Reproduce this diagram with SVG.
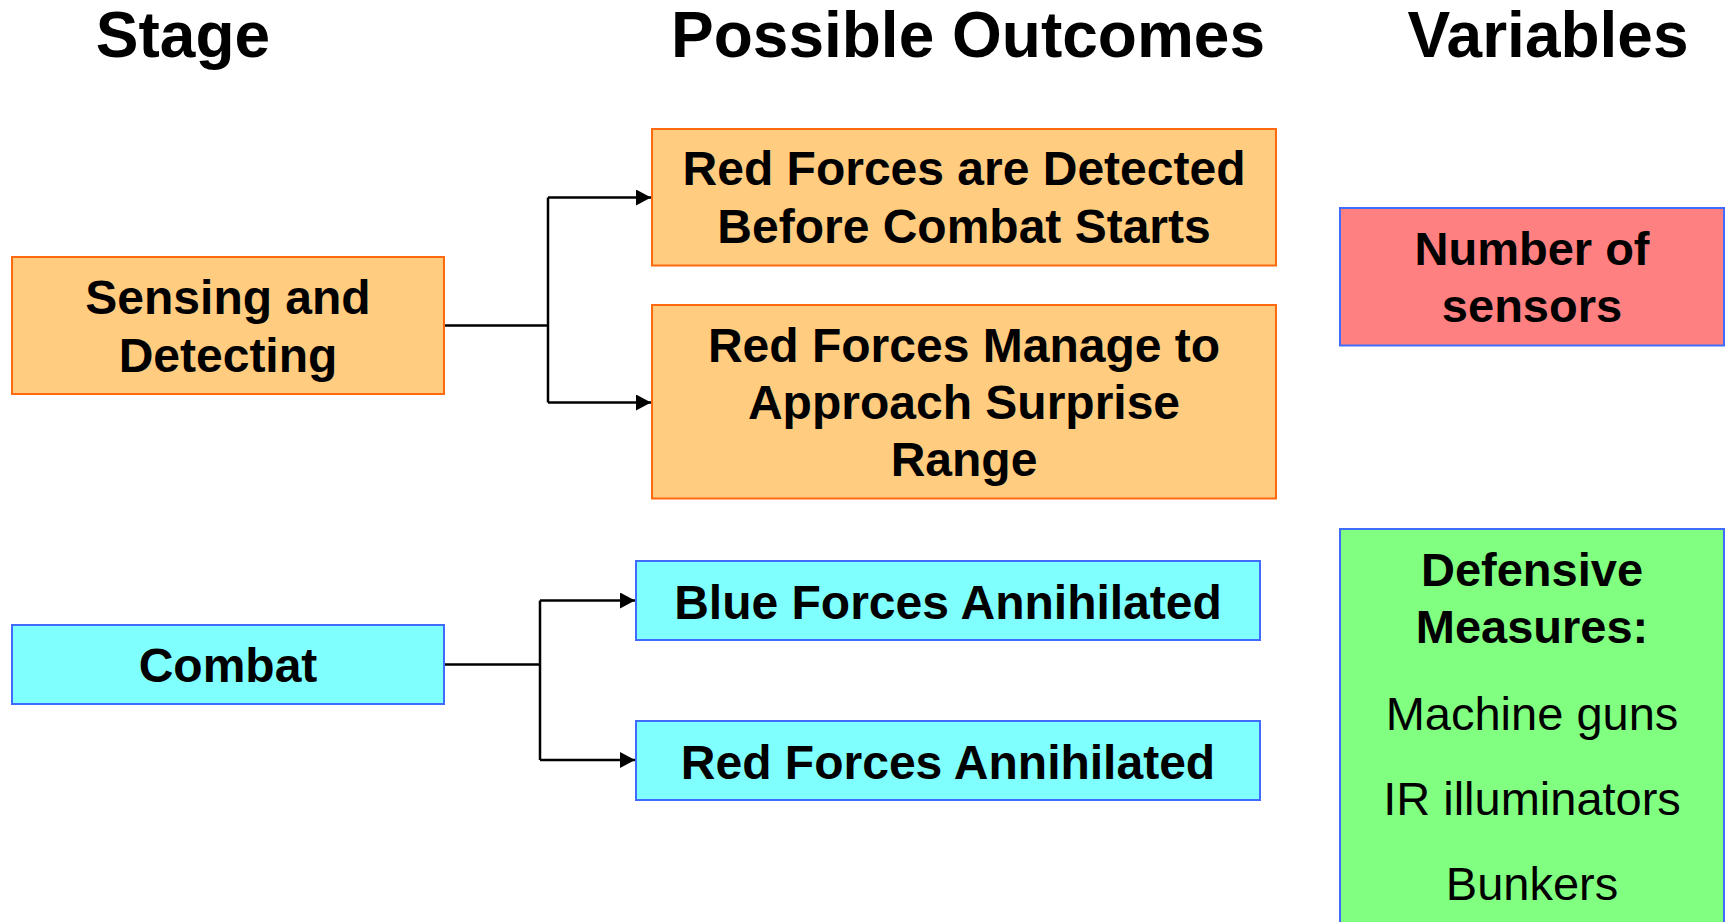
<svg xmlns="http://www.w3.org/2000/svg" width="1725" height="922" viewBox="0 0 1725 922">
  <style>
    .title { font-family: "Liberation Sans", Arial, sans-serif; font-weight: bold; font-size: 64px; fill: #000; text-anchor: middle; }
    .lbl { font-family: "Liberation Sans", Arial, sans-serif; font-weight: bold; font-size: 48px; fill: #000; text-anchor: middle; }
    .var { font-family: "Liberation Sans", Arial, sans-serif; font-size: 47px; fill: #000; text-anchor: middle; }
    .varb { font-family: "Liberation Sans", Arial, sans-serif; font-weight: bold; font-size: 47px; fill: #000; text-anchor: middle; }
    .orange { fill: #FFCC80; stroke: #FF6A10; stroke-width: 2; }
    .cyan { fill: #80FFFF; stroke: #3F6CFF; stroke-width: 2; }
    .red { fill: #FF8080; stroke: #3F6CFF; stroke-width: 2; }
    .green { fill: #80FF80; stroke: #3F6CFF; stroke-width: 2; }
    .conn { fill: none; stroke: #000; stroke-width: 2.5; }
  </style>
  <defs>
    <marker id="arrow" markerWidth="15" markerHeight="16" refX="15" refY="8" orient="auto" markerUnits="userSpaceOnUse">
      <path d="M0,0 L15,8 L0,16 Z" fill="#000"/>
    </marker>
  </defs>

  <!-- column headings -->
  <g id="headings">
    <text class="title" x="183" y="57">Stage</text>
    <text class="title" x="968" y="57">Possible Outcomes</text>
    <text class="title" x="1548" y="57">Variables</text>
  </g>

  <!-- connectors -->
  <g id="connectors">
    <path class="conn" d="M444,325.5 H548 M548,197.5 V402.5"/>
    <path class="conn" d="M548,197.5 H651" marker-end="url(#arrow)"/>
    <path class="conn" d="M548,402.5 H651" marker-end="url(#arrow)"/>
    <path class="conn" d="M444,664.5 H540 M540,600.5 V760"/>
    <path class="conn" d="M540,600.5 H635" marker-end="url(#arrow)"/>
    <path class="conn" d="M540,760 H635" marker-end="url(#arrow)"/>
  </g>

  <!-- stages -->
  <g id="sensing">
    <rect class="orange" x="12" y="257" width="432" height="137"/>
    <text class="lbl" x="228" y="314">Sensing and</text>
    <text class="lbl" x="228" y="372">Detecting</text>
  </g>
  <g id="combat">
    <rect class="cyan" x="12" y="625" width="432" height="79"/>
    <text class="lbl" x="228" y="682">Combat</text>
  </g>

  <!-- outcomes -->
  <g id="detected">
    <rect class="orange" x="652" y="129" width="624" height="136.5"/>
    <text class="lbl" x="964" y="185">Red Forces are Detected</text>
    <text class="lbl" x="964" y="243">Before Combat Starts</text>
  </g>
  <g id="surprise">
    <rect class="orange" x="652" y="305" width="624" height="193.5"/>
    <text class="lbl" x="964" y="362">Red Forces Manage to</text>
    <text class="lbl" x="964" y="419">Approach Surprise</text>
    <text class="lbl" x="964" y="476">Range</text>
  </g>
  <g id="blue-annihilated">
    <rect class="cyan" x="636" y="561" width="624" height="79"/>
    <text class="lbl" x="948" y="619">Blue Forces Annihilated</text>
  </g>
  <g id="red-annihilated">
    <rect class="cyan" x="636" y="721" width="624" height="79"/>
    <text class="lbl" x="948" y="779">Red Forces Annihilated</text>
  </g>

  <!-- variables -->
  <g id="sensors">
    <rect class="red" x="1340" y="208" width="384" height="137.5"/>
    <text class="varb" x="1532" y="265">Number of</text>
    <text class="varb" x="1532" y="322">sensors</text>
  </g>
  <g id="defensive">
    <rect class="green" x="1340" y="529" width="384" height="400"/>
    <text class="varb" x="1532" y="586">Defensive</text>
    <text class="varb" x="1532" y="643">Measures:</text>
    <text class="var" x="1532" y="730">Machine guns</text>
    <text class="var" x="1532" y="815">IR illuminators</text>
    <text class="var" x="1532" y="900">Bunkers</text>
  </g>
</svg>
